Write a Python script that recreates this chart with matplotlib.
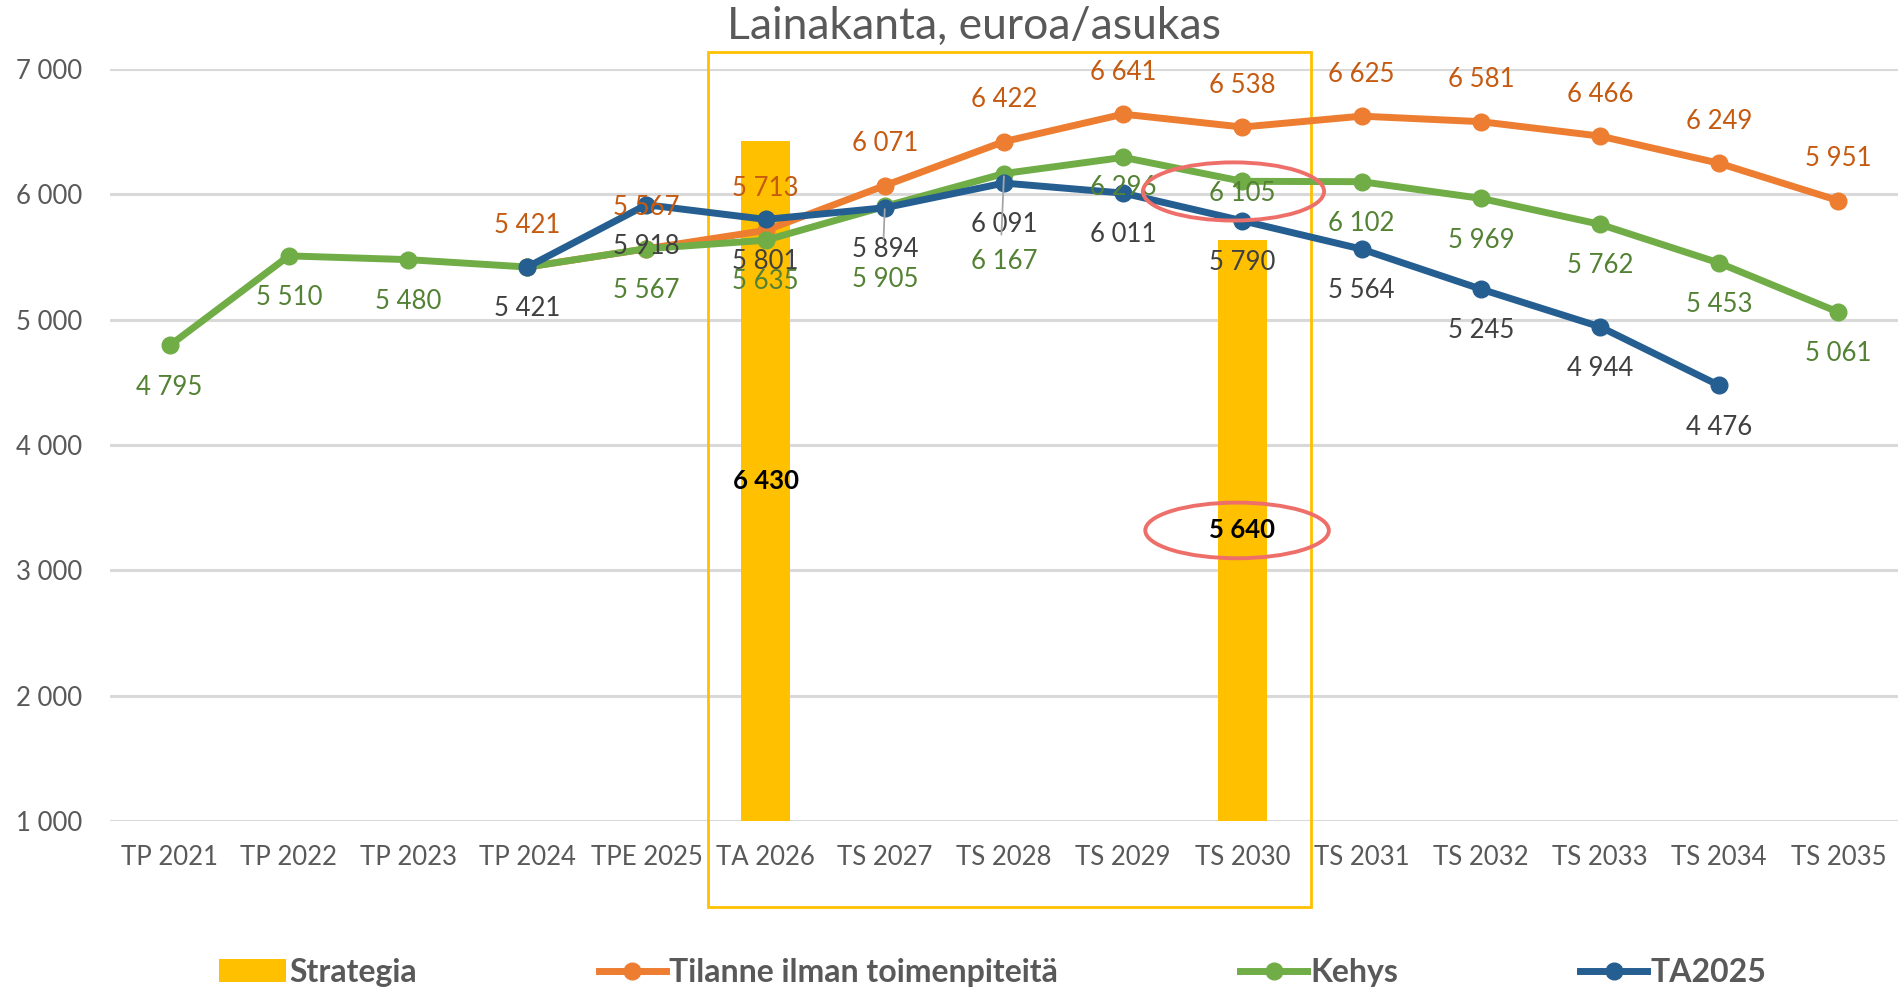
import numpy as np
import matplotlib
matplotlib.use('Agg')
import matplotlib.pyplot as plt
from matplotlib.patches import Ellipse, Rectangle
from matplotlib.ticker import FuncFormatter, MultipleLocator

plt.rcParams['font.family'] = ['Lato', 'DejaVu Sans']

# Data
vuodet = ['TP 2021', 'TP 2022', 'TP 2023', 'TP 2024', 'TPE 2025', 'TA 2026', 'TS 2027',
          'TS 2028', 'TS 2029', 'TS 2030', 'TS 2031', 'TS 2032', 'TS 2033', 'TS 2034', 'TS 2035']
nan = np.nan
strategia = [nan, nan, nan, nan, nan, 6430, nan, nan, nan, 5640, nan, nan, nan, nan, nan]
tilanne = [nan, nan, nan, 5421, 5567, 5713, 6071, 6422, 6641, 6538, 6625, 6581, 6466, 6249, 5951]
kehys = [4795, 5510, 5480, 5421, 5567, 5635, 5905, 6167, 6296, 6105, 6102, 5969, 5762, 5453, 5061]
ta2025 = [nan, nan, nan, 5421, 5918, 5801, 5894, 6091, 6011, 5790, 5564, 5245, 4944, 4476, nan]

def fmt(v, pos=None):
    return f"{v:,.0f}".replace(',', ' ')

x = np.arange(len(vuodet))

fig = plt.figure(figsize=(18.98, 9.88), dpi=100)
ax = fig.add_axes([0.058, 0.169, 0.942, 0.761])

# värit
c_bar = '#FFC000'
c_or, c_gr, c_bl = '#ED7D31', '#70AD47', '#255E91'
c_or_t, c_gr_t, c_bl_t = '#C55A11', '#548235', '#404040'
grey = '#595959'

ax.set_xlim(-0.5, len(vuodet) - 0.5)
ax.set_ylim(1000, 7000)
ax.yaxis.set_major_locator(MultipleLocator(1000))
ax.yaxis.set_major_formatter(FuncFormatter(fmt))
ax.grid(axis='y', color='#D9D9D9', lw=2.2, zorder=0)
ax.set_axisbelow(True)
for s in ax.spines.values():
    s.set_visible(False)
ax.tick_params(length=0, labelsize=18.5, colors=grey)
ax.tick_params(axis='y', pad=20)
ax.tick_params(axis='x', pad=17)
ax.set_xticks(x)
ax.set_xticklabels(vuodet)

# pylväät
b = ax.bar(x, strategia, width=0.41, color=c_bar, label='Strategia', zorder=2)
for i, v in enumerate(strategia):
    if not np.isnan(v):
        ax.text(i, (1000 + v) / 2, fmt(v), ha='center', va='center', fontsize=18.5,
                fontweight='bold', color='black', zorder=6)

# viivat
l1, = ax.plot(x, tilanne, color=c_or, lw=5, marker='o', ms=12, label='Tilanne ilman toimenpiteitä', zorder=3)
l2, = ax.plot(x, kehys, color=c_gr, lw=5, marker='o', ms=12, label='Kehys', zorder=3)
l3, = ax.plot(x, ta2025, color=c_bl, lw=5, marker='o', ms=12, label='TA2025', zorder=4)

# arvojen tekstit
off = 30
gr_off = {6: -53, 7: -63, 8: -22, 9: -9}
for i, v in enumerate(tilanne):
    if not np.isnan(v):
        ax.annotate(fmt(v), (i, v), xytext=(0, off), textcoords='offset points',
                    ha='center', va='center', fontsize=18.5, color=c_or_t, zorder=5)
for i, v in enumerate(kehys):
    if i == 3:
        continue
    ax.annotate(fmt(v), (i, v), xytext=(0, gr_off.get(i, -off)), textcoords='offset points',
                ha='center', va='center', fontsize=18.5, color=c_gr_t, zorder=5)
for i, v in enumerate(ta2025):
    if not np.isnan(v):
        ax.annotate(fmt(v), (i, v), xytext=(0, -off), textcoords='offset points',
                    ha='center', va='center', fontsize=18.5, color=c_bl_t, zorder=5)

# viittausviivat
ax.annotate('', xy=(6, kehys[6]), xytext=(-1, -25), textcoords='offset points',
            arrowprops=dict(arrowstyle='-', color='#A6A6A6', lw=1.3), zorder=5)
ax.annotate('', xy=(7, kehys[7]), xytext=(-2, -46), textcoords='offset points',
            arrowprops=dict(arrowstyle='-', color='#A6A6A6', lw=1.3), zorder=5)

# strategiakauden kehys
ax.add_patch(Rectangle((4.513, 314), 9.574 - 4.513, 7135 - 314, fill=False,
                       edgecolor=c_bar, lw=2, clip_on=False, zorder=1))

# punaiset ympyrät
ax.add_patch(Ellipse((8.925, 6024), 1.52, 464, fill=False, edgecolor='#EE6F69',
                     lw=2.8, clip_on=False, zorder=7))
ax.add_patch(Ellipse((8.955, 3319), 1.54, 444, fill=False, edgecolor='#EE6F69',
                     lw=2.8, clip_on=False, zorder=7))

fig.text(0.513, 0.973, 'Lainakanta, euroa/asukas', ha='center', va='center',
         fontsize=32, color=grey)

leg = fig.legend([b, l1, l2, l3], ['Strategia', 'Tilanne ilman toimenpiteitä', 'Kehys', 'TA2025'],
                 loc='center', bbox_to_anchor=(0.523, 0.016), ncol=4, frameon=False,
                 fontsize=23, handlelength=2.1, handletextpad=0.1, columnspacing=5.7)
for t in leg.get_texts():
    t.set_fontweight('bold')
    t.set_color(grey)

fig.savefig('out.png', dpi=100)
